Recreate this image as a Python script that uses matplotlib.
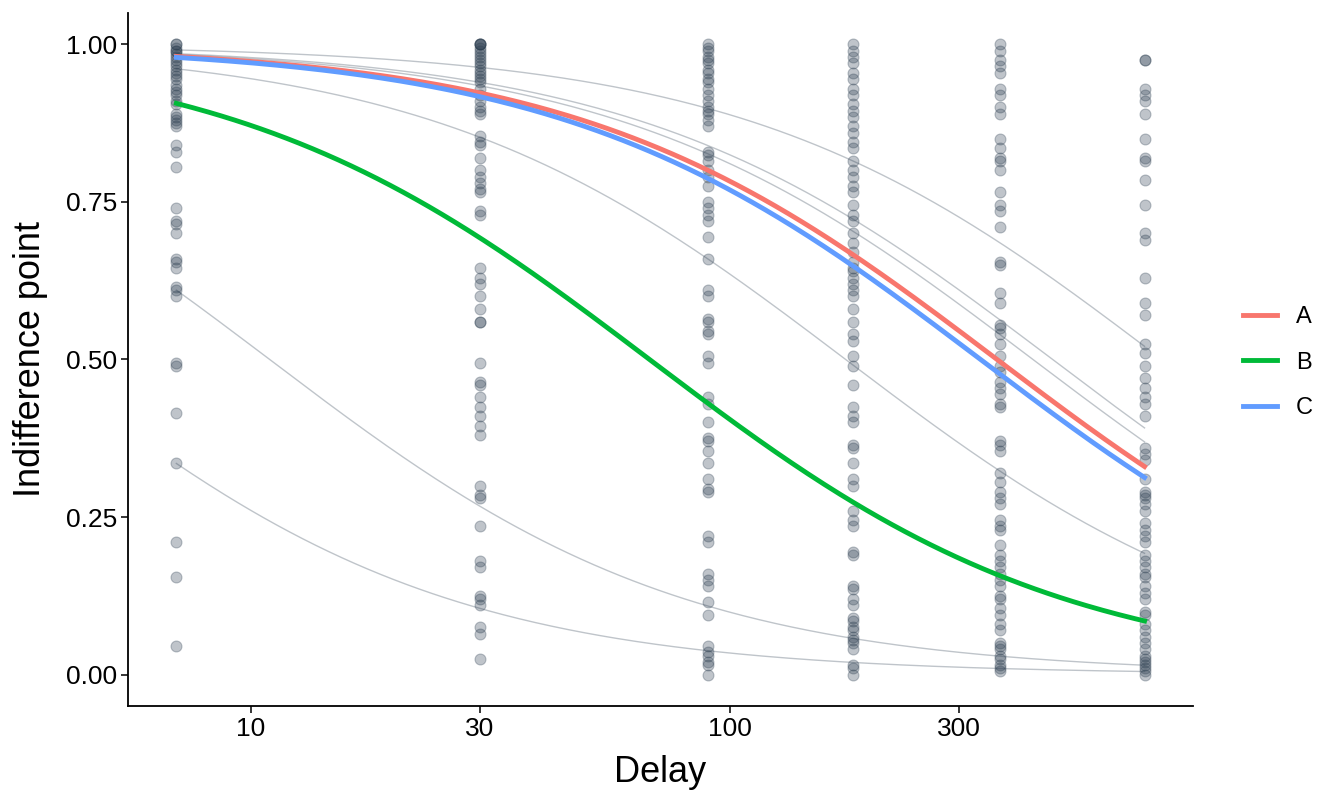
import numpy as np
import matplotlib
matplotlib.use("Agg")
import matplotlib.pyplot as plt

plt.rcParams["font.family"] = ["Liberation Sans", "DejaVu Sans"]

# delays (days) and the indifference points
delays = [7, 30, 90, 180, 365, 730]

ip_7 = [1.00, 1.00, 0.995, 0.99, 0.99, 0.985, 0.98, 0.975, 0.97, 0.965, 0.96, 0.955,
        0.95, 0.945, 0.935, 0.93, 0.925, 0.92, 0.91, 0.905, 0.89, 0.885, 0.88, 0.875,
        0.87, 0.84, 0.83, 0.805, 0.74, 0.72, 0.715, 0.70, 0.66, 0.655, 0.645, 0.615,
        0.61, 0.60, 0.495, 0.49, 0.415, 0.335, 0.21, 0.155, 0.045]
ip_30 = [1.00, 1.00, 1.00, 1.00, 0.995, 0.99, 0.985, 0.98, 0.975, 0.97, 0.965, 0.96,
         0.955, 0.95, 0.945, 0.94, 0.93, 0.92, 0.91, 0.90, 0.895, 0.89, 0.855, 0.845,
         0.84, 0.82, 0.80, 0.79, 0.78, 0.77, 0.765, 0.735, 0.73, 0.645, 0.63, 0.62,
         0.60, 0.58, 0.56, 0.56, 0.495, 0.465, 0.46, 0.44, 0.425, 0.41, 0.395, 0.38,
         0.30, 0.285, 0.28, 0.235, 0.18, 0.17, 0.125, 0.12, 0.11, 0.075, 0.065, 0.025]
ip_90 = [1.00, 0.995, 0.99, 0.98, 0.975, 0.97, 0.96, 0.955, 0.945, 0.94, 0.93, 0.92,
         0.91, 0.90, 0.895, 0.89, 0.88, 0.87, 0.83, 0.825, 0.815, 0.80, 0.79, 0.775,
         0.75, 0.74, 0.73, 0.72, 0.695, 0.66, 0.61, 0.60, 0.565, 0.56, 0.545, 0.54,
         0.505, 0.495, 0.44, 0.43, 0.40, 0.375, 0.37, 0.355, 0.335, 0.31, 0.295, 0.29,
         0.22, 0.21, 0.16, 0.15, 0.14, 0.115, 0.095, 0.045, 0.035, 0.03, 0.02, 0.015, 0.0]
ip_180 = [1.00, 0.99, 0.98, 0.97, 0.955, 0.945, 0.93, 0.92, 0.905, 0.895, 0.885, 0.87,
          0.86, 0.845, 0.835, 0.815, 0.80, 0.79, 0.775, 0.765, 0.745, 0.73, 0.72, 0.70,
          0.685, 0.67, 0.655, 0.645, 0.64, 0.63, 0.62, 0.61, 0.60, 0.58, 0.56, 0.54,
          0.53, 0.505, 0.49, 0.46, 0.425, 0.41, 0.40, 0.365, 0.36, 0.335, 0.31, 0.30,
          0.26, 0.245, 0.235, 0.195, 0.19, 0.14, 0.135, 0.12, 0.11, 0.09, 0.085, 0.075,
          0.07, 0.06, 0.055, 0.05, 0.04, 0.015, 0.01, 0.0]
ip_365 = [1.00, 0.99, 0.975, 0.965, 0.955, 0.93, 0.92, 0.90, 0.89, 0.85, 0.835, 0.82,
          0.815, 0.80, 0.765, 0.745, 0.735, 0.71, 0.655, 0.65, 0.605, 0.59, 0.555, 0.55,
          0.54, 0.525, 0.505, 0.49, 0.48, 0.465, 0.455, 0.445, 0.43, 0.425, 0.37, 0.365,
          0.355, 0.32, 0.305, 0.29, 0.28, 0.27, 0.245, 0.235, 0.23, 0.205, 0.19, 0.18,
          0.17, 0.16, 0.15, 0.14, 0.125, 0.12, 0.105, 0.095, 0.08, 0.07, 0.05, 0.045,
          0.04, 0.03, 0.025, 0.015, 0.01, 0.005]
ip_730 = [0.975, 0.975, 0.93, 0.92, 0.91, 0.89, 0.85, 0.82, 0.815, 0.785, 0.745, 0.70,
          0.69, 0.63, 0.59, 0.57, 0.525, 0.51, 0.49, 0.47, 0.455, 0.44, 0.43, 0.41,
          0.36, 0.35, 0.34, 0.31, 0.29, 0.285, 0.28, 0.27, 0.26, 0.24, 0.23, 0.22,
          0.21, 0.19, 0.18, 0.17, 0.16, 0.155, 0.14, 0.13, 0.12, 0.10, 0.095, 0.08,
          0.07, 0.06, 0.05, 0.04, 0.03, 0.025, 0.02, 0.015, 0.01, 0.005, 0.0]
ip_columns = [ip_7, ip_30, ip_90, ip_180, ip_365, ip_730]

# hyperbolic discount rates of the fitted curves
group_names = ["A", "B", "C"]
group_k = [0.00278, 0.01474, 0.00301]
group_colors = ["#F8766D", "#00BA38", "#619CFF"]
subject_k = [0.00126, 0.00213, 0.00234, 0.00575, 0.0913, 0.2836]


def hyperbolic(d, k):
    return 1.0 / (1.0 + k * d)


def main():
    fig = plt.figure(figsize=(13.44, 8.06), dpi=100)
    ax = fig.add_axes([0.0952, 0.124, 0.7924, 0.860])

    pt_color = "#2C3E50"
    for d, vals in zip(delays, ip_columns):
        ax.scatter(np.full(len(vals), d), vals, s=62, color=pt_color, alpha=0.3,
                   linewidths=0.8, zorder=2)

    grid = np.geomspace(delays[0], delays[-1], 300)
    for k in subject_k:
        ax.plot(grid, hyperbolic(grid, k), color=pt_color, alpha=0.3, lw=1.0, zorder=3)

    for name, k, c in zip(group_names, group_k, group_colors):
        ax.plot(grid, hyperbolic(grid, k), color=c, lw=3.5, label=name, zorder=4)

    ax.set_xscale("log")
    lo, hi = np.log10(delays[0]), np.log10(delays[-1])
    pad = 0.05 * (hi - lo)
    ax.set_xlim(10 ** (lo - pad), 10 ** (hi + pad))
    ax.set_ylim(-0.05, 1.05)
    ax.set_xticks([10, 30, 100, 300])
    ax.set_xticklabels(["10", "30", "100", "300"])
    ax.xaxis.set_minor_locator(matplotlib.ticker.NullLocator())
    ax.set_yticks([0, 0.25, 0.5, 0.75, 1.0])
    ax.set_yticklabels(["0.00", "0.25", "0.50", "0.75", "1.00"])

    for s in ["top", "right"]:
        ax.spines[s].set_visible(False)
    for s in ["left", "bottom"]:
        ax.spines[s].set_linewidth(1.3)
    ax.tick_params(axis="both", direction="out", length=5, width=1.1,
                   labelsize=19, colors="black", pad=3)

    ax.set_xlabel("Delay", fontsize=26, labelpad=10)
    ax.set_ylabel("Indifference point", fontsize=26, labelpad=13)

    handles, labels = ax.get_legend_handles_labels()
    fig.legend(handles, labels, loc="center left", bbox_to_anchor=(0.909, 0.550),
               frameon=False, fontsize=17, handlelength=1.45, handletextpad=0.8,
               labelspacing=1.0)

    fig.savefig("out.png", dpi=100)


if __name__ == "__main__":
    main()
